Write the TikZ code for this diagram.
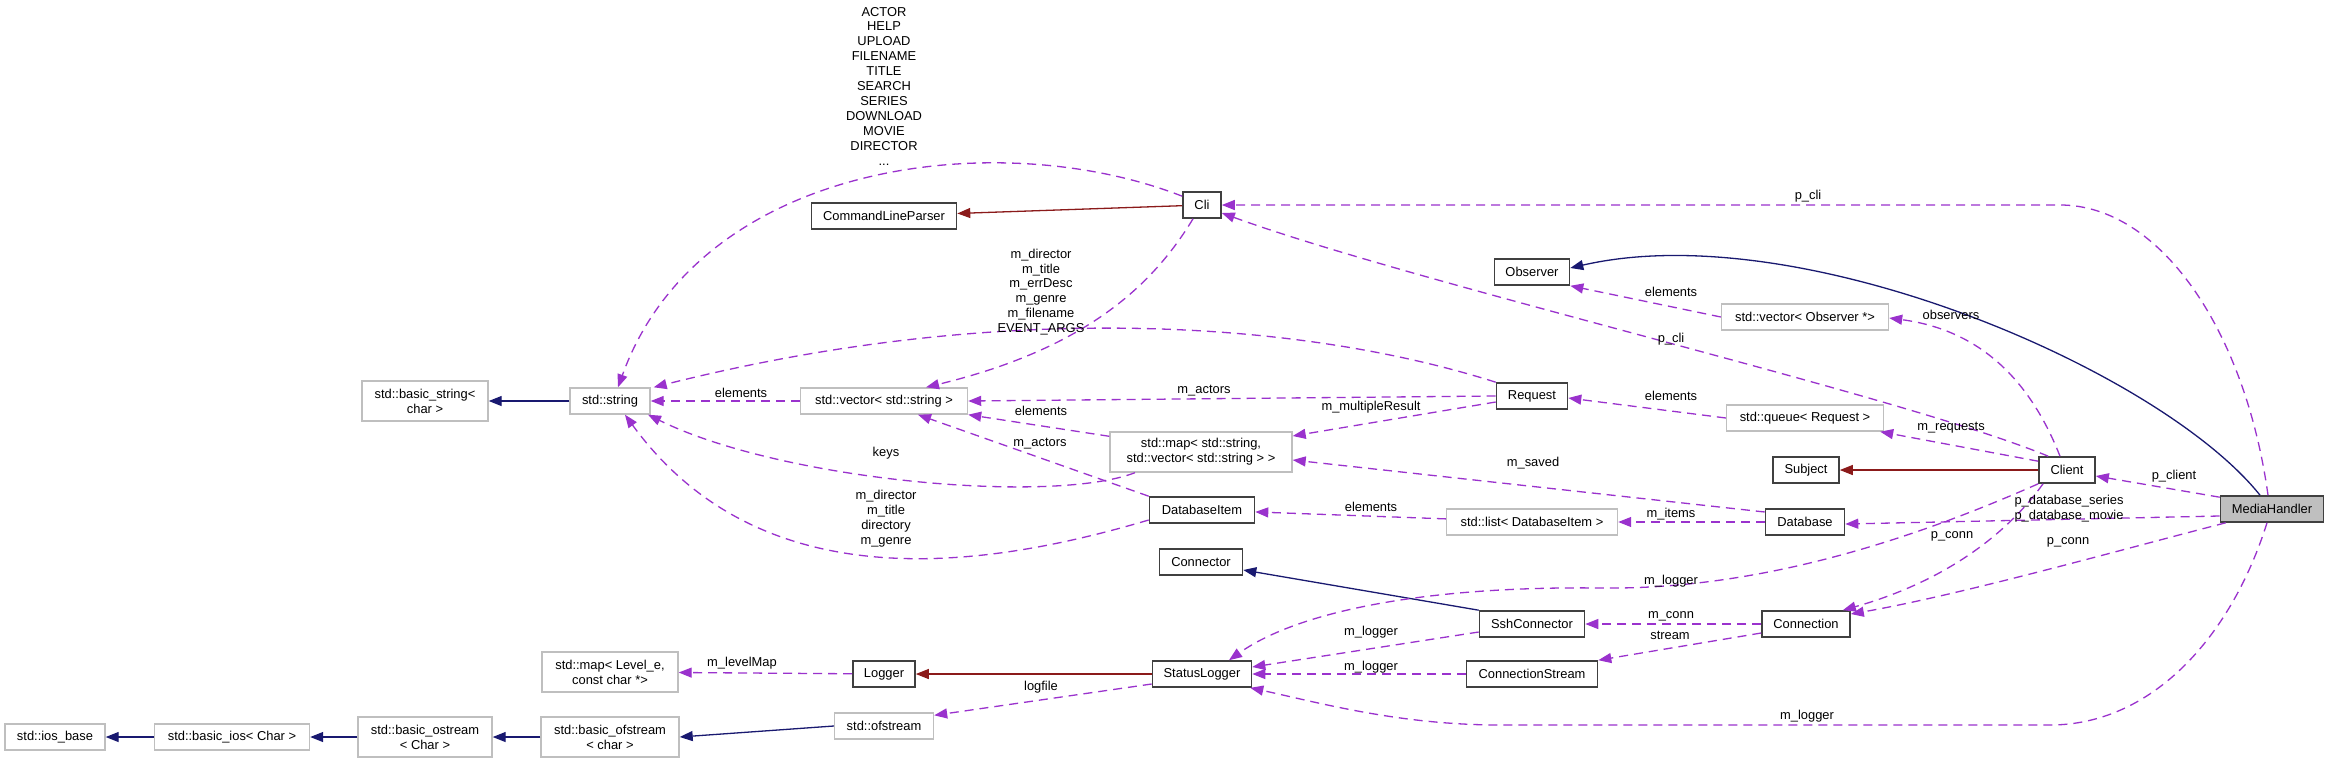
\documentclass[tikz,border=0pt]{standalone}
\usepackage{fontspec}
\setmainfont{Liberation Sans}
\usepackage{tikz}
\usetikzlibrary{arrows.meta, positioning}
\definecolor{inhblue}{HTML}{191970}
\definecolor{protred}{HTML}{8B1A1A}
\definecolor{usepurple}{HTML}{9A32CD}
\definecolor{extgray}{HTML}{BFBFBF}
\definecolor{clsgray}{HTML}{404040}

\begin{document}
\begin{tikzpicture}[x=1pt, y=-1pt,
  font=\fontsize{12.9}{14.9}\selectfont,
  box/.style={rectangle, inner sep=0pt, minimum height=26pt, align=center},
  cls/.style={box, draw=clsgray, line width=1.6pt},
  ext/.style={box, draw=extgray, line width=1.4pt},
  focus/.style={cls, fill=extgray},
  lbl/.style={inner sep=0pt, align=center},
  tip/.style={-{Triangle[length=13pt, width=10pt]}},
  inh/.style={tip, draw=inhblue, line width=1.3pt},
  prot/.style={tip, draw=protred, line width=1.3pt},
  use/.style={tip, draw=usepurple, line width=1.3pt, dash pattern=on 9pt off 6pt}]
	\path[use as bounding box, fill=white] (0,0) rectangle (2329,763);

	\node[ext, minimum width=100] (iosbase) at (55,737) {std::ios\_base};
	\node[ext, minimum width=155] (basicios) at (232,737) {std::basic\_ios< Char >};
	\node[ext, minimum width=134, minimum height=40] (bostream) at (425,737) {std::basic\_ostream\\< Char >};
	\node[ext, minimum width=138, minimum height=40] (bofstream) at (610,737) {std::basic\_ofstream\\< char >};
	\node[ext, minimum width=136, minimum height=40] (levelmap) at (610,672) {std::map< Level\_e,\\const char *>};
	\node[ext, minimum width=126, minimum height=40] (bstring) at (425,401) {std::basic\_string<\\char >};
	\node[ext, minimum width=80] (string) at (610,401) {std::string};
	\node[ext, minimum width=167] (strvec) at (884,401) {std::vector< std::string >};
	\node[cls, minimum width=145] (parser) at (884,216) {CommandLineParser};
	\node[cls, minimum width=38] (cli) at (1202,205) {Cli};
	\node[ext, minimum width=182, minimum height=40] (strmap) at (1201,452) {std::map< std::string,\\ std::vector< std::string > >};
	\node[cls, minimum width=105] (dbitem) at (1202,510) {DatabaseItem};
	\node[cls, minimum width=83] (connector) at (1201,562) {Connector};
	\node[cls, minimum width=99] (statlog) at (1202,674) {StatusLogger};
	\node[cls, minimum width=62] (logger) at (884,674) {Logger};
	\node[ext, minimum width=99] (ofstream) at (884,726) {std::ofstream};
	\node[cls, minimum width=75] (observer) at (1532,272) {Observer};
	\node[cls, minimum width=71] (request) at (1532,396) {Request};
	\node[ext, minimum width=171] (dblist) at (1532,522) {std::list< DatabaseItem >};
	\node[cls, minimum width=105] (ssh) at (1532,624) {SshConnector};
	\node[cls, minimum width=131] (connstream) at (1532,674) {ConnectionStream};
	\node[ext, minimum width=167] (obsvec) at (1805,317) {std::vector< Observer *>};
	\node[ext, minimum width=157] (reqqueue) at (1805,418) {std::queue< Request >};
	\node[cls, minimum width=66] (subject) at (1806,470) {Subject};
	\node[cls, minimum width=79] (database) at (1805,522) {Database};
	\node[cls, minimum width=88] (connection) at (1806,624) {Connection};
	\node[cls, minimum width=56] (client) at (2067,470) {Client};
	\node[focus, minimum width=103] (media) at (2272,509) {MediaHandler};

	\draw[inh] (string) -- (bstring);
	\draw[inh] (ofstream.west) -- (bofstream.east);
	\draw[inh] (bofstream) -- (bostream);
	\draw[inh] (bostream) -- (basicios);
	\draw[inh] (basicios) -- (iosbase);
	\draw[inh] (ssh.north west) -- ([yshift=-8pt]connector.east);
	\draw[inh] ([xshift=-12pt]media.north) .. controls (2160,370) and (1800,215) .. ([yshift=4pt]observer.east);
	\draw[prot] (cli) -- (parser);
	\draw[prot] (client) -- (subject);
	\draw[prot] (statlog) -- (logger);

	\draw[use] ([yshift=-5pt]cli.north west) .. controls (1000,125) and (700,160) .. ([xshift=8pt]string.north);
	\draw[use] ([xshift=10pt]client.north west) .. controls (1900,395) and (1420,285) .. ([yshift=-8pt]cli.east);
	\draw[use] ([xshift=-4pt]media.north) .. controls (2245,330) and (2160,205) .. (2060,205) -- (cli.east);
	\draw[use] (request.north west) .. controls (1300,320) and (1000,300) .. ([xshift=3pt]string.north east);
	\draw[use] ([xshift=-9pt]cli.south) .. controls (1150,290) and (1080,350) .. ([xshift=42pt]strvec.north);
	\draw[use] (strvec) -- (string);
	\draw[use] (request.west) -- (strvec.east);
	\draw[use] ([yshift=-6pt]request.west) -- ([yshift=16pt]strmap.east);
	\draw[use] ([yshift=-5pt]strmap.north west) -- (strvec.south east);
	\draw[use] ([xshift=-66pt]strmap.south) .. controls (1050,505) and (780,480) .. ([xshift=38pt]string.south);
	\draw[use] (dbitem.north west) -- ([xshift=34pt]strvec.south);
	\draw[use] ([yshift=-10pt]dbitem.west) .. controls (980,570) and (760,600) .. ([xshift=15pt]string.south);
	\draw[use] ([yshift=10pt]database.west) -- ([yshift=-8pt]strmap.east);
	\draw[use] (database) -- (dblist);
	\draw[use] (dblist) -- (dbitem);
	\draw[use] (obsvec.west) -- (observer.south east);
	\draw[use] (reqqueue.west) -- ([yshift=-2pt]request.east);
	\draw[use] ([yshift=-5pt]client.north west) -- ([xshift=-4pt]reqqueue.south east);
	\draw[use] ([xshift=-7pt]client.north) .. controls (2030,380) and (1980,330) .. ([yshift=-1pt]obsvec.east);
	\draw[use] ([yshift=-2pt]media.north west) -- ([yshift=-6pt]client.east);
	\draw[use] ([yshift=-7pt]media.west) -- ([yshift=-2pt]database.east);
	\draw[use] ([xshift=6pt]media.south west) .. controls (2120,550) and (1960,595) .. ([yshift=10pt]connection.east);
	\draw[use] ([xshift=-24pt]client.south) .. controls (2010,530) and (1950,580) .. ([xshift=-8pt]connection.north east);
	\draw[use] (client.south west) .. controls (1900,545) and (1750,590) .. (1600,588) .. controls (1430,586) and (1300,610) .. ([xshift=27pt]statlog.north);
	\draw[use] ([xshift=-5pt]media.south) .. controls (2230,640) and (2150,725) .. (2050,725) -- (1500,725) .. controls (1400,725) and (1320,703) .. ([xshift=-2pt]statlog.south east);
	\draw[use] (connection) -- (ssh);
	\draw[use] ([yshift=-9pt]connection.west) -- (connstream.north east);
	\draw[use] ([yshift=-8pt]ssh.west) -- ([yshift=7pt]statlog.east);
	\draw[use] (connstream) -- (statlog);
	\draw[use] ([yshift=-10pt]statlog.west) -- ([yshift=-3pt]ofstream.north east);
	\draw[use] (logger) -- (levelmap);

	\node[lbl] (lbopts) at (884,86) {ACTOR\\HELP\\UPLOAD\\FILENAME\\TITLE\\SEARCH\\SERIES\\DOWNLOAD\\MOVIE\\DIRECTOR\\...};
	\node[lbl] (lbreq) at (1041,292) {m\_director\\m\_title\\m\_errDesc\\m\_genre\\m\_filename\\EVENT\_ARGS};
	\node[lbl] (lbelemstr) at (741,393) {elements};
	\node[lbl] (lbactorsreq) at (1204,391) {m\_actors};
	\node[lbl] (lbmulti) at (1371,407) {m\_multipleResult};
	\node[lbl] (lbelemmap) at (1041,411) {elements};
	\node[lbl] (lbactorsdb) at (1040,444) {m\_actors};
	\node[lbl] (lbkeys) at (886,453) {keys};
	\node[lbl] (lbdbstr) at (886,519) {m\_director\\m\_title\\directory\\m\_genre};
	\node[lbl] (lbsaved) at (1533,463) {m\_saved};
	\node[lbl] (lbitems) at (1671,514) {m\_items};
	\node[lbl] (lbelemdb) at (1371,507) {elements};
	\node[lbl] (lbelemobs) at (1671,292) {elements};
	\node[lbl] (lbclicl) at (1671,339) {p\_cli};
	\node[lbl] (lbelemreq) at (1671,396) {elements};
	\node[lbl] (lbclimh) at (1808,196) {p\_cli};
	\node[lbl] (lbobservers) at (1951,315) {observers};
	\node[lbl] (lbrequests) at (1951,428) {m\_requests};
	\node[lbl] (lbclient) at (2174,476) {p\_client};
	\node[lbl] (lbdatabase) at (2069,509) {p\_database\_series\\p\_database\_movie};
	\node[lbl] (lbconncl) at (1952,536) {p\_conn};
	\node[lbl] (lbconnmh) at (2068,542) {p\_conn};
	\node[lbl] (lblogcl) at (1671,581) {m\_logger};
	\node[lbl] (lbmconn) at (1671,616) {m\_conn};
	\node[lbl] (lbstream) at (1670,635) {stream};
	\node[lbl] (lblogssh) at (1371,632) {m\_logger};
	\node[lbl] (lblogcs) at (1371,667) {m\_logger};
	\node[lbl] (lblogmh) at (1807,716) {m\_logger};
	\node[lbl] (lblogfile) at (1041,687) {logfile};
	\node[lbl] (lblevel) at (742,663) {m\_levelMap};
\end{tikzpicture}
\end{document}
